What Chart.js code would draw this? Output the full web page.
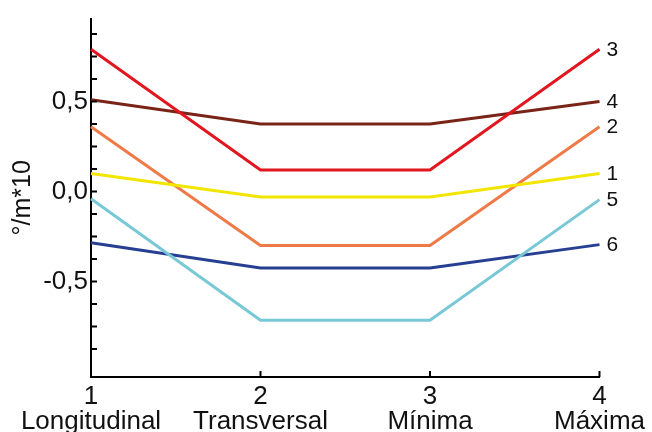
<!DOCTYPE html>
<html>
<head>
<meta charset="utf-8">
<script src="https://cdn.jsdelivr.net/npm/chart.js@4"></script>
<style>
  body { margin: 0; background: #fff; }
  #wrap { width: 652px; height: 432px; }
</style>
</head>
<body>
<div id="wrap"><canvas id="orientChart"></canvas></div>
<script>
// x positions and their names
var xPositions = [1, 2, 3, 4];
var xNames = ['Longitudinal', 'Transversal', 'Mínima', 'Máxima'];

// y ticks (every 0.125), only some carry a label
var yTicks = [-0.875, -0.75, -0.625, -0.5, -0.375, -0.25, -0.125, 0, 0.125, 0.25, 0.375, 0.5, 0.625, 0.75, 0.875];
var yLabelled = [-0.5, 0, 0.5];

// series
var seriesNames = ['1', '2', '3', '4', '5', '6'];
var series1 = [0.10, -0.03, -0.03, 0.10];
var series2 = [0.36, -0.30, -0.30, 0.36];
var series3 = [0.79, 0.12, 0.12, 0.79];
var series4 = [0.51, 0.375, 0.375, 0.50];
var series5 = [-0.04, -0.715, -0.715, -0.045];
var series6 = [-0.285, -0.425, -0.425, -0.295];
var seriesColors = ['#f2e600', '#ee7a48', '#e1161e', '#7a2418', '#78c8d6', '#273f92'];

var allSeries = [series1, series2, series3, series4, series5, series6];
var fontFamily = '"Liberation Sans", Arial, sans-serif';

// inward tick marks on both axes
var tickMarks = {
  id: 'tickMarks',
  afterDraw: function(chart) {
    var c = chart.ctx, x = chart.scales.x, y = chart.scales.y;
    var area = chart.chartArea;
    c.save();
    c.strokeStyle = '#000';
    c.lineWidth = 2;
    c.beginPath();
    yTicks.forEach(function(v) {
      var py = y.getPixelForValue(v);
      c.moveTo(area.left, py);
      c.lineTo(area.left + 6, py);
    });
    xPositions.slice(1).forEach(function(v) {
      var px = x.getPixelForValue(v);
      c.moveTo(px, area.bottom);
      c.lineTo(px, area.bottom - 6);
    });
    c.stroke();
    c.restore();
  }
};

// series number next to the last point of each line
var endLabels = {
  id: 'endLabels',
  afterDatasetsDraw: function(chart) {
    var c = chart.ctx;
    c.save();
    c.font = '21px ' + fontFamily;
    c.fillStyle = '#111';
    c.textAlign = 'left';
    c.textBaseline = 'middle';
    chart.data.datasets.forEach(function(ds, i) {
      var pts = chart.getDatasetMeta(i).data;
      var last = pts[pts.length - 1];
      c.fillText(ds.label, last.x + 7, last.y + 1);
    });
    c.restore();
  }
};

var ctx = document.getElementById('orientChart').getContext('2d');
new Chart(ctx, {
  type: 'line',
  data: {
    datasets: allSeries.map(function(values, i) {
      return {
        label: seriesNames[i],
        data: values.map(function(v, j) { return { x: xPositions[j], y: v }; }),
        borderColor: seriesColors[i],
        borderWidth: 3,
        pointRadius: 0,
        tension: 0,
        clip: false
      };
    })
  },
  options: {
    responsive: true,
    maintainAspectRatio: false,
    animation: false,
    layout: { padding: { top: 15, right: 51, left: 0, bottom: 0 } },
    plugins: {
      legend: { display: false },
      tooltip: { enabled: false }
    },
    scales: {
      x: {
        type: 'linear',
        min: 1,
        max: 4,
        grid: { display: false, drawTicks: false },
        border: { display: true, color: '#000', width: 2 },
        afterBuildTicks: function(scale) {
          scale.ticks = xPositions.map(function(v) { return { value: v }; });
        },
        afterFit: function(scale) { scale.height = 55; },
        ticks: {
          autoSkip: false,
          maxRotation: 0,
          padding: 7,
          color: '#111',
          font: { family: fontFamily, size: 26, lineHeight: 0.98 },
          callback: function(v) { return [String(v), xNames[v - 1]]; }
        }
      },
      y: {
        min: -1.03,
        max: 0.96,
        grid: { display: false, drawTicks: false },
        border: { display: true, color: '#000', width: 2 },
        afterBuildTicks: function(scale) {
          scale.ticks = yTicks.map(function(v) { return { value: v }; });
        },
        afterFit: function(scale) { scale.width = 91; },
        ticks: {
          autoSkip: false,
          padding: 3,
          color: '#111',
          font: { family: fontFamily, size: 26 },
          callback: function(v) {
            return yLabelled.indexOf(v) >= 0 ? v.toFixed(1).replace('.', ',') : '';
          }
        },
        title: {
          display: true,
          text: '°/m*10',
          color: '#111',
          padding: { top: 8, bottom: 0 },
          font: { family: fontFamily, size: 25 }
        }
      }
    }
  },
  plugins: [tickMarks, endLabels]
});
</script>
</body>
</html>
